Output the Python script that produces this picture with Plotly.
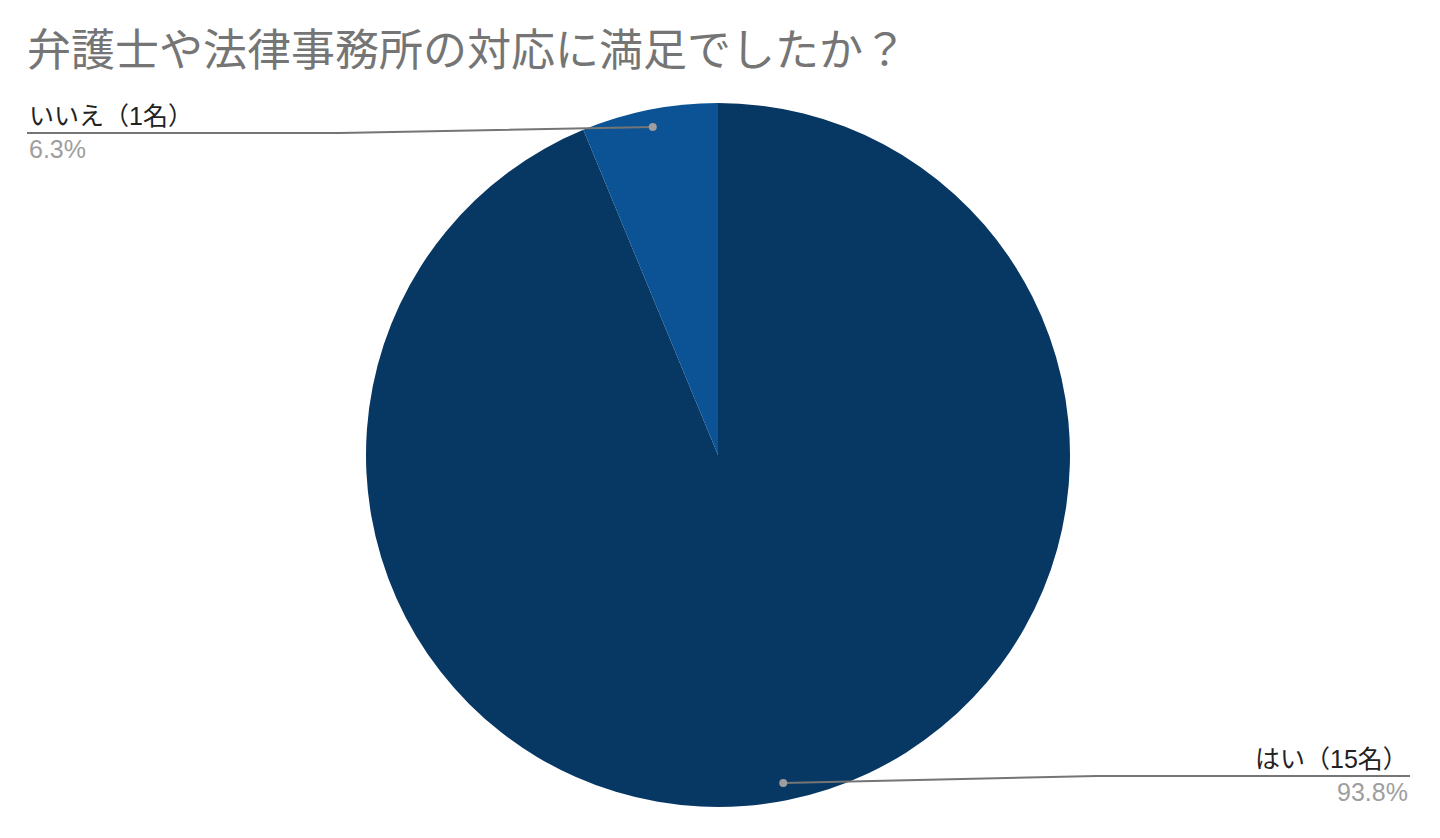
import math
from decimal import Decimal, ROUND_HALF_UP
import plotly.graph_objects as go

# data
labels = ["はい（15名）", "いいえ（1名）"]
values = [15, 1]
colors = ["#073763", "#0b5394"]
title = "弁護士や法律事務所の対応に満足でしたか？"

W, H = 1440, 838
cx, cy, R = 718, 455, 352   # pie centre / radius in pixels

total = sum(values)
pcts = [Decimal(v * 100) / Decimal(total) for v in values]


def px_x(x):
    return x / W


def px_y(y):
    return 1 - y / H


fig = go.Figure()
fig.add_trace(go.Pie(
    labels=labels,
    values=values,
    sort=False,
    direction="clockwise",
    rotation=0,
    marker=dict(colors=colors, line=dict(width=0)),
    textinfo="none",
    hoverinfo="label+percent",
    showlegend=False,
    domain=dict(x=[px_x(cx - R), px_x(cx + R)], y=[px_y(cy + R), px_y(cy - R)]),
))

# leader lines + outside labels (google sheets style)
shapes = []
annotations = []
start = 0.0
for lab, v, p in zip(labels, values, pcts):
    mid = start + v / total * 360 / 2
    start += v / total * 360
    a = math.radians(mid)
    dx = cx + 0.95 * R * math.sin(a)
    dy = cy - 0.95 * R * math.cos(a)
    right = math.sin(a) >= 0
    if right:
        ex = 1410
        ly = dy - 7
    else:
        ex = 27
        ly = dy + 6
    elbow = (dx + ex) / 2
    shapes.append(dict(
        type="path", xref="paper", yref="paper",
        path=f"M {px_x(dx)},{px_y(dy)} L {px_x(elbow)},{px_y(ly)} L {px_x(ex)},{px_y(ly)}",
        line=dict(color="#757575", width=2),
    ))
    shapes.append(dict(
        type="circle", xref="paper", yref="paper",
        x0=px_x(dx - 4), x1=px_x(dx + 4), y0=px_y(dy + 4), y1=px_y(dy - 4),
        fillcolor="#9e9e9e", line=dict(width=0),
    ))
    anchor = "right" if right else "left"
    pct_txt = p.quantize(Decimal("0.1"), rounding=ROUND_HALF_UP)
    annotations.append(dict(
        xref="paper", yref="paper", x=px_x(ex), y=px_y(ly - 1),
        xanchor=anchor, yanchor="bottom", showarrow=False, text=lab,
        font=dict(size=25, color="#222222"),
    ))
    annotations.append(dict(
        xref="paper", yref="paper", x=px_x(ex), y=px_y(ly),
        xanchor=anchor, yanchor="top", showarrow=False, text=f"{pct_txt}%",
        font=dict(size=25, color="#9e9e9e"),
    ))

annotations.append(dict(
    xref="paper", yref="paper", x=px_x(25), y=px_y(50),
    xanchor="left", yanchor="middle", showarrow=False, text=title,
    font=dict(size=44, color="#757575"),
))

fig.update_layout(
    width=W, height=H,
    margin=dict(l=0, r=0, t=0, b=0),
    paper_bgcolor="white",
    font=dict(family="Liberation Sans, Noto Sans CJK JP, sans-serif"),
    shapes=shapes,
    annotations=annotations,
)

fig.write_html("out.html", config={"displayModeBar": False},
               post_script="document.body.style.margin='0';")
